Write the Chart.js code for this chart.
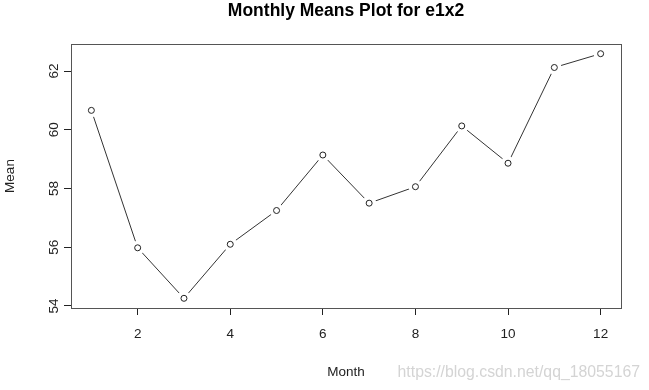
<!DOCTYPE html>
<html>
<head>
<meta charset="utf-8">
<script src="https://cdn.jsdelivr.net/npm/chart.js@4/dist/chart.umd.min.js"></script>
<style>
  html, body { margin: 0; padding: 0; background: #ffffff; }
  #wrap { width: 649px; height: 390px; position: relative; }
</style>
</head>
<body>
<div id="wrap"><canvas id="c" width="649" height="390"></canvas></div>
<script>
// ---- data ----
const months = [1, 2, 3, 4, 5, 6, 7, 8, 9, 10, 11, 12];
const means = [60.66, 55.98, 54.26, 56.10, 57.25, 59.14, 57.50, 58.06, 60.13, 58.86, 62.12, 62.59];
const xTicks = [2, 4, 6, 8, 10, 12];
const yTicks = [54, 56, 58, 60, 62];
const xLimits = [0.56, 12.44];
const yLimits = [53.93, 62.92];
const titleText = 'Monthly Means Plot for e1x2';
const xTitle = 'Month';
const yTitle = 'Mean';
const watermark = 'https://blog.csdn.net/qq_18055167';

const pts = months.map((m, i) => ({ x: m, y: means[i] }));
const FONT = '"Liberation Sans", Arial, sans-serif';

const textPlugin = {
  id: 'rtext',
  afterDatasetsDraw(chart) {
    const ctx = chart.ctx;
    const a = chart.chartArea;
    const xs = chart.scales.x, ys = chart.scales.y;
    ctx.save();
    // box
    ctx.strokeStyle = '#555555';
    ctx.lineWidth = 1;
    ctx.strokeRect(Math.round(a.left) + 0.5, Math.round(a.top) + 0.5,
                   Math.round(a.right - a.left), Math.round(a.bottom - a.top));
    const cx = (a.left + a.right) / 2;
    const cy = (a.top + a.bottom) / 2;
    // title
    ctx.fillStyle = '#000000';
    ctx.font = 'bold 17.5px ' + FONT;
    ctx.textAlign = 'center';
    ctx.textBaseline = 'alphabetic';
    ctx.fillText(titleText, cx, 16);
    // x tick labels
    ctx.font = '13.5px ' + FONT;
    ctx.fillStyle = '#222222';
    xs.ticks.forEach(t => {
      ctx.fillText(String(t.value), xs.getPixelForValue(t.value), 338);
    });
    // x title
    ctx.fillText(xTitle, cx, 376);
    // y tick labels (rotated)
    ys.ticks.forEach(t => {
      ctx.save();
      ctx.translate(58, ys.getPixelForValue(t.value));
      ctx.rotate(-Math.PI / 2);
      ctx.textAlign = 'center';
      ctx.textBaseline = 'alphabetic';
      ctx.fillText(String(t.value), 0, 0);
      ctx.restore();
    });
    // y title
    ctx.save();
    ctx.translate(14, cy);
    ctx.rotate(-Math.PI / 2);
    ctx.textAlign = 'center';
    ctx.fillText(yTitle, 0, 0);
    ctx.restore();
    // watermark
    ctx.font = '15.8px ' + FONT;
    ctx.fillStyle = '#d4d4d4';
    ctx.textAlign = 'right';
    ctx.fillText(watermark, 640, 377);
    ctx.restore();
  }
};

new Chart(document.getElementById('c'), {
  type: 'line',
  data: {
    datasets: [
      {
        label: 'circles',
        data: pts,
        showLine: false,
        pointRadius: 3,
        pointBorderWidth: 1,
        pointBorderColor: '#222222',
        pointBackgroundColor: '#ffffff',
        order: 1
      },
      {
        label: 'gap',
        data: pts,
        showLine: false,
        pointRadius: 7,
        pointBorderWidth: 0,
        pointBorderColor: 'rgba(0,0,0,0)',
        pointBackgroundColor: '#ffffff',
        order: 2
      },
      {
        label: 'line',
        data: pts,
        borderColor: '#333333',
        borderWidth: 1,
        pointRadius: 0,
        tension: 0,
        fill: false,
        order: 3
      }
    ]
  },
  options: {
    responsive: false,
    animation: false,
    events: [],
    layout: { padding: { top: 44, right: 28, left: 0, bottom: 0 } },
    plugins: { legend: { display: false }, title: { display: false }, tooltip: { enabled: false } },
    scales: {
      x: {
        type: 'linear',
        min: xLimits[0],
        max: xLimits[1],
        afterBuildTicks: s => { s.ticks = xTicks.map(v => ({ value: v })); },
        afterFit: s => { s.height = 82; },
        ticks: { display: false },
        grid: { drawOnChartArea: false, drawTicks: true, tickLength: 7, tickColor: '#222222', tickWidth: 1 },
        border: { display: false }
      },
      y: {
        type: 'linear',
        min: yLimits[0],
        max: yLimits[1],
        afterBuildTicks: s => { s.ticks = yTicks.map(v => ({ value: v })); },
        afterFit: s => { s.width = 71; },
        ticks: { display: false },
        grid: { drawOnChartArea: false, drawTicks: true, tickLength: 7, tickColor: '#222222', tickWidth: 1 },
        border: { display: false }
      }
    }
  },
  plugins: [textPlugin]
});
</script>
</body>
</html>
